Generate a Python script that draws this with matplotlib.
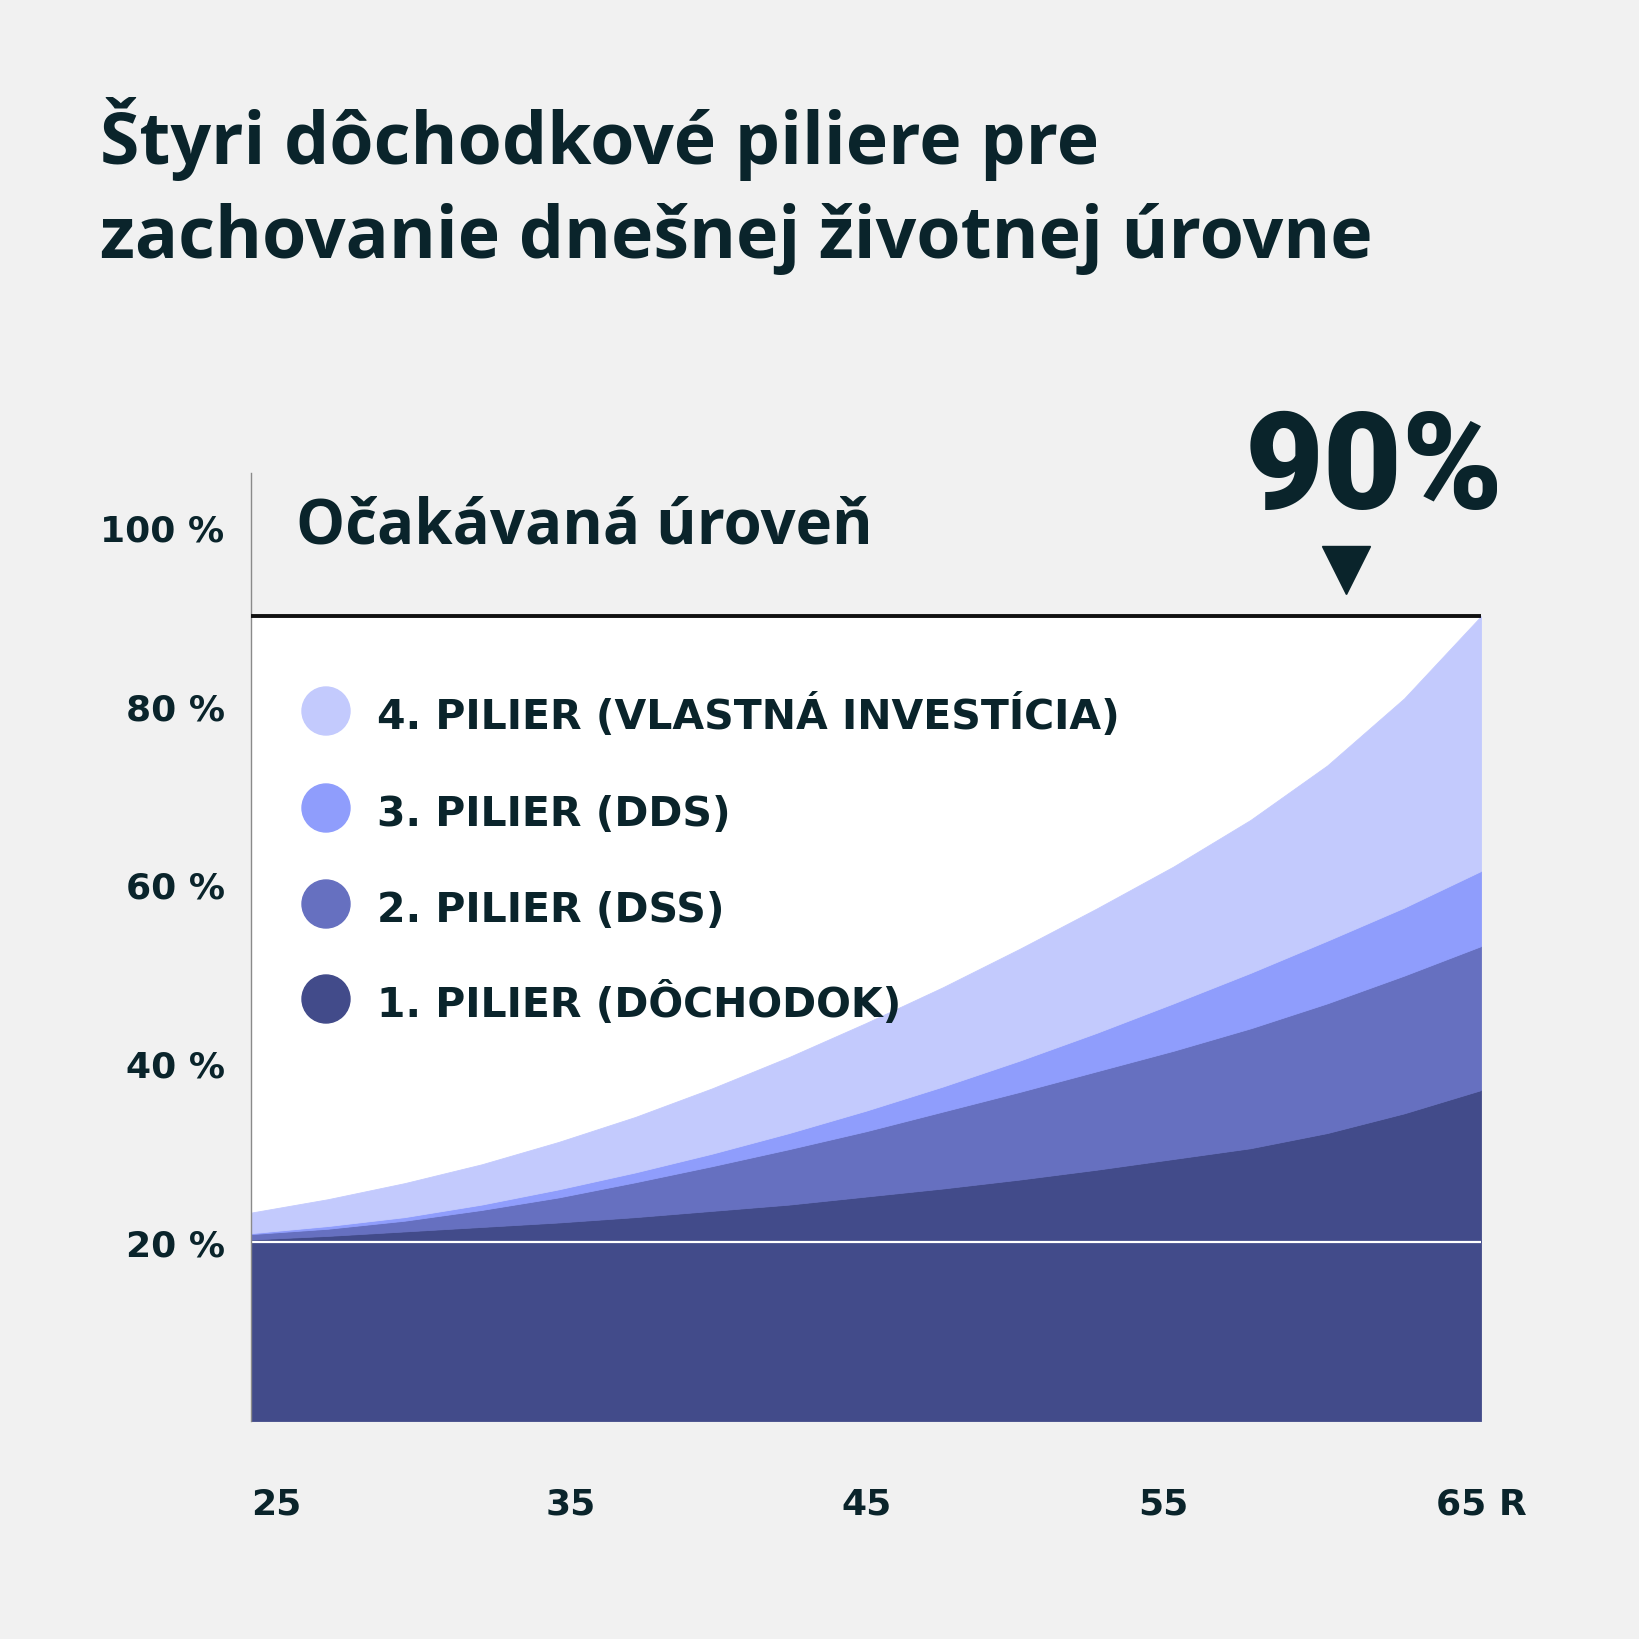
import matplotlib
matplotlib.use("Agg")
import matplotlib.pyplot as plt

# upper edge of each stacked layer (percent), every 2.5 years
ages = [25, 27.5, 30, 32.5, 35, 37.5, 40, 42.5, 45, 47.5, 50, 52.5, 55, 57.5, 60, 62.5, 65]
top_pilier1 = [20.3, 20.7, 21.2, 21.7, 22.2, 22.8, 23.5, 24.2, 25.1, 26.0, 27.0, 28.1,
               29.3, 30.5, 32.2, 34.4, 37.0]
top_pilier2 = [20.9, 21.5, 22.4, 23.6, 25.0, 26.7, 28.5, 30.4, 32.4, 34.6, 36.8, 39.1,
               41.4, 43.9, 46.7, 49.8, 53.1]
top_pilier3 = [21.0, 21.8, 22.8, 24.2, 25.9, 27.8, 29.9, 32.2, 34.7, 37.4, 40.3, 43.4,
               46.7, 50.1, 53.7, 57.4, 61.5]
top_pilier4 = [23.3, 24.8, 26.6, 28.7, 31.2, 34.0, 37.2, 40.7, 44.5, 48.5, 52.8, 57.3,
               62.0, 67.2, 73.3, 80.8, 90.0]

target = 90
base_level = 20
target_age = 60.6

legend_labels = [
    "4. PILIER (VLASTNÁ INVESTÍCIA)",
    "3. PILIER (DDS)",
    "2. PILIER (DSS)",
    "1. PILIER (DÔCHODOK)",
]
ytick_vals = [20, 40, 60, 80, 100]
ytick_labels = ["20 %", "40 %", "60 %", "80 %", "100 %"]
xtick_labels = ["25", "35", "45", "55", "65 R"]

title_lines = ["Štyri dôchodkové piliere pre", "zachovanie dnešnej životnej úrovne"]
subtitle = "Očakávaná úroveň"
big_label = "90%"

colors = ["#424b8a", "#6670c0", "#8f9dfc", "#c3cafd"]
bg = "#f1f1f1"
ink = "#0a242b"

W = 1640


def fx(px):
    return px / W


def fy(px):
    return 1 - px / W


fig = plt.figure(figsize=(16.4, 16.4), dpi=100, facecolor=bg)
ax = fig.add_axes([fx(251), fy(1422), fx(1481 - 251), (1422 - 474) / W])
ax.set_facecolor(bg)
ax.set_xlim(25, 65)
ax.set_ylim(0, 106)

ax.axhspan(0, target, color="white", zorder=0, lw=0)
edges = [[0] * len(ages), top_pilier1, top_pilier2, top_pilier3, top_pilier4]
for lo, hi, col in zip(edges[:-1], edges[1:], colors):
    ax.fill_between(ages, lo, hi, color=col, lw=0.6, edgecolor=col, zorder=1)
ax.axhline(base_level, color="white", lw=1.6, zorder=2)
ax.axhline(target, color="#111111", lw=2.8, zorder=3)

for s in ["top", "right", "bottom"]:
    ax.spines[s].set_visible(False)
ax.spines["left"].set_color("#8a8a8a")
ax.spines["left"].set_linewidth(1.0)

ax.set_yticks(ytick_vals)
ax.set_yticklabels(ytick_labels, fontsize=26, fontweight="bold", color=ink,
                   family="DejaVu Sans")
ax.tick_params(axis="y", length=0, pad=19)
ax.set_xticks([])

# x labels sit evenly spaced under the axis
xlab_px = [251, 571, 867, 1163, 1436]
for i, (lab, xp) in enumerate(zip(xtick_labels, xlab_px)):
    ha = "left" if i in (0, 4) else "center"
    fig.text(fx(xp), fy(1515), lab, ha=ha, va="baseline", fontsize=26,
             fontweight="bold", color=ink, family="DejaVu Sans")

# title
for line, yb in zip(title_lines, [164, 258]):
    fig.text(fx(100), fy(yb), line, fontsize=51.5, fontweight="bold",
             color=ink, family="Open Sans", va="baseline")

fig.text(fx(296), fy(544), subtitle, fontsize=44.5, fontweight="bold",
         color=ink, family="Open Sans", va="baseline")
fig.text(fx(1245), fy(509), big_label, fontsize=98, fontweight="black",
         color=ink, family="Roboto", va="baseline")

ax.plot([target_age], [95.2], marker="v", ms=35, color=ink, clip_on=False,
        zorder=4)

# legend
leg_y = [712, 809, 905, 1000]
for lab, col, yp in zip(legend_labels, colors[::-1], leg_y):
    fig.add_artist(plt.Circle((fx(326), fy(yp)), 24 / W, color=col,
                              transform=fig.transFigure))
    fig.text(fx(377), fy(yp + 17), lab, fontsize=29.5, fontweight="bold",
             color=ink, family="DejaVu Sans", va="baseline")

fig.savefig("out.png", dpi=100, facecolor=bg)
